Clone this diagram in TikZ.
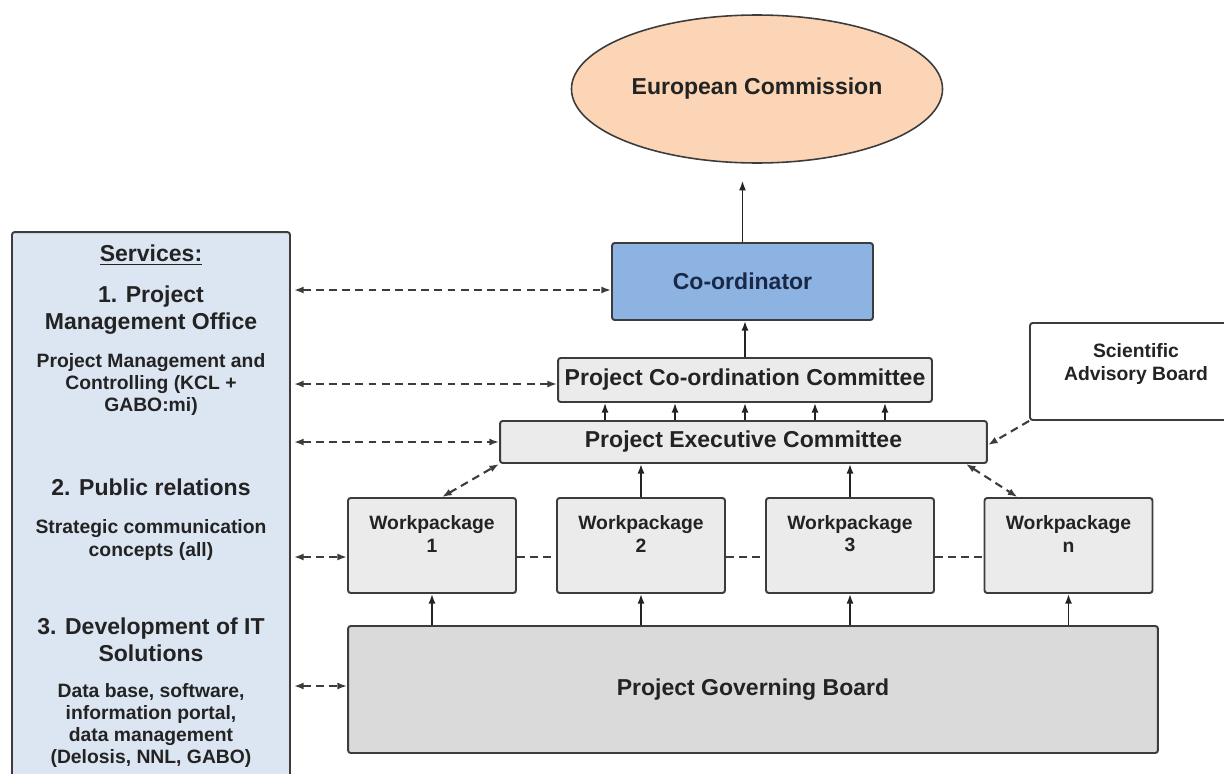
\documentclass[tikz,border=0pt]{standalone}
\usepackage{fontspec}
\setmainfont{Liberation Sans}
\usetikzlibrary{shapes.geometric,arrows.meta}
\definecolor{peach}{RGB}{251,213,181}
\definecolor{coordblue}{RGB}{141,179,226}
\definecolor{paleblue}{RGB}{220,230,242}
\definecolor{boxgray}{RGB}{235,235,235}
\definecolor{boardgray}{RGB}{218,218,218}
\definecolor{edgegray}{RGB}{60,60,60}
\definecolor{textgray}{RGB}{35,35,35}
\definecolor{navytext}{RGB}{25,40,70}

\begin{document}
\begin{tikzpicture}[>={Latex[length=5.5pt,width=4pt]}, x=0.02cm, y=-0.02cm,
  box/.style={draw=edgegray, line width=1.1pt, rounded corners=1.5pt, inner sep=0pt},
  bigtext/.style={font=\fontsize{13.1}{15.4}\selectfont\bfseries, align=center, text=textgray},
  smalltext/.style={font=\fontsize{11}{12.6}\selectfont\bfseries, align=center, text=textgray},
  link/.style={draw=textgray, line width=0.9pt},
  dashlink/.style={draw=edgegray, line width=1.2pt, dash pattern=on 4.5pt off 3pt},
  wpbox/.style={box, fill=boxgray, minimum width=3.36cm, minimum height=1.9cm}]

\useasboundingbox (0,0) rectangle (1224,774);

% top of the hierarchy
\node[ellipse, draw=edgegray, line width=0.9pt, fill=peach, minimum width=6.44cm, minimum height=2.96cm, bigtext] (ec) at (757,89) {European Commission};
\node[box, fill=coordblue, minimum width=5.22cm, minimum height=1.54cm, bigtext, text=navytext] (coord) at (742.5,281.5) {Co-ordinator};
\node[box, fill=boxgray, minimum width=7.48cm, minimum height=0.88cm, bigtext] (pcc) at (745,380) {Project Co-ordination Committee};
\node[box, fill=boxgray, minimum width=9.74cm, minimum height=0.84cm, bigtext] (pec) at (743.5,442) {Project Executive Committee};
\node[box, fill=white, minimum width=4.24cm, minimum height=1.94cm] (sab) at (1136,371.5) {};
\node[smalltext, font=\fontsize{11}{13.6}\selectfont\bfseries] (sabtext) at (1136,364) {Scientific\\Advisory Board};
\node[box, fill=boardgray, minimum width=16.2cm, minimum height=2.54cm, bigtext] (pgb) at (753,689.5) {Project Governing Board};

\draw[link,->,shorten >=0.34cm] (coord.north) -- (coord.north |- ec.south);
\draw[link,->] (pcc.north) -- (pcc.north |- coord.south);
\foreach \d in {-2.77,-1.37,0.03,1.43,2.83}
  \draw[link,->] ([xshift=\d cm]pec.north) -- ([xshift=\d cm]pec.north |- pcc.south);

% workpackages
\foreach \n/\x in {1/432,2/641,3/850,n/1068.5} {
  \node[wpbox] (wp\n) at (\x,545.5) {};
  \node[smalltext] (wptext\n) at (\x,534) {Workpackage\\\n};
  \draw[link,->] (wp\n.south |- pgb.north) -- (wp\n.south);
}
\draw[link,->] (wp2.north) -- (wp2.north |- pec.south);
\draw[link,->] (wp3.north) -- (wp3.north |- pec.south);
\draw[dashlink,<->] ([xshift=0.2cm]wp1.north) -- (pec.south west);
\draw[dashlink,<->] ([xshift=-0.44cm]pec.south east) -- ([xshift=-1.02cm]wpn.north);
\draw[dashlink,->] (sab.south west) -- ([yshift=-0.06cm]pec.east);

\coordinate (twp) at ([yshift=-0.23cm]wp1.west);
\draw[dashlink] (wp1.east |- twp) -- (wp2.west |- twp);
\draw[dashlink] (wp2.east |- twp) -- (wp3.west |- twp);
\draw[dashlink] (wp3.east |- twp) -- (wpn.west |- twp);

% services column
\node[box, fill=paleblue, minimum width=5.56cm, minimum height=11.36cm] (services) at (151,516) {};
\node[bigtext] (srvtitle) at (151,255) {\underline{Services:}};
\node[bigtext] (srv1) at (151,310.5) {1. Project\\Management Office};
\node[smalltext] (srv1a) at (151,384.5) {Project Management and\\Controlling (KCL +\\GABO:mi)};
\node[bigtext] (srv2) at (151,487) {2. Public relations};
\node[smalltext] (srv2a) at (151,540) {Strategic communication\\concepts (all)};
\node[bigtext] (srv3) at (151,639.5) {3. Development of IT\\Solutions};
\node[smalltext] (srv3a) at (151,725.5) {Data base, software,\\information portal,\\data management\\(Delosis, NNL, GABO)};

\coordinate (tcoord) at ([yshift=-0.17cm]coord.west);
\coordinate (tpcc) at ([yshift=-0.08cm]pcc.west);
\coordinate (tpec) at (pec.west);
\coordinate (tpgb) at ([yshift=0.07cm]pgb.west);
\foreach \t in {tcoord,tpcc,tpec,twp,tpgb}
  \draw[dashlink,<->] ([xshift=0.06cm]services.east |- \t) -- (\t);

\end{tikzpicture}
\end{document}
